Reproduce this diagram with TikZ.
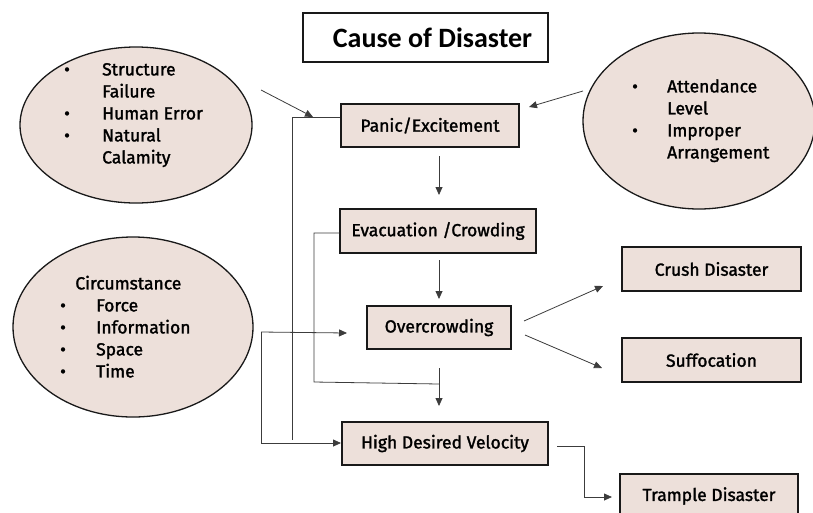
\documentclass[tikz,border=0pt]{standalone}
\usepackage{fontspec}
\setmainfont{Fira Sans}[RawFeature={embolden=1.6}]
\newfontfamily\titlefont{Carlito}
\usetikzlibrary{shapes.geometric,arrows.meta}
\definecolor{boxfill}{RGB}{237,224,218}
\definecolor{linegray}{RGB}{60,60,60}
\tikzset{
  every node/.style={font=\fontsize{17.5}{22}\selectfont},
  stepbox/.style={draw=black!90, line width=1.3pt, fill=boxfill, inner sep=0pt},
  bubble/.style={ellipse, draw=black!90, line width=1.3pt, fill=boxfill, inner sep=0pt},
  arr/.style={draw=linegray, line width=0.8pt, -{Triangle[length=8pt,width=7pt]}},
  link/.style={draw=linegray, line width=0.8pt},
}
\begin{document}
\begin{tikzpicture}[x=1pt,y=-1pt]
\useasboundingbox (0,0) rectangle (813,512);

% title
\node[draw=black!90, line width=1.3pt, minimum width=245pt, minimum height=49pt, inner sep=0pt,
      font=\titlefont\bfseries\fontsize{28}{32}\selectfont] (title) at (425.5,37.5) {\hspace*{14pt}Cause of Disaster};

% influence bubbles
\node[bubble, minimum width=232pt, minimum height=156pt] (e1) at (136,125) {};
\node[anchor=west, inner sep=0pt] (e1txt) at (64,115) {%
  \begin{tabular}{@{}p{38pt}@{}l@{}}
  \textbullet & Structure\\ & Failure\\ \textbullet & Human Error\\ \textbullet & Natural\\ & Calamity
  \end{tabular}};

\node[bubble, minimum width=232pt, minimum height=176pt] (e2) at (699,121) {};
\node[anchor=west, inner sep=0pt] (e2txt) at (632,121) {%
  \begin{tabular}{@{}p{35pt}@{}l@{}}
  \textbullet & Attendance\\ & Level\\ \textbullet & Improper\\ & Arrangement
  \end{tabular}};

\node[bubble, minimum width=240pt, minimum height=180pt] (e3) at (133,327) {};
\node[anchor=west, inner sep=0pt] (e3txt) at (60,329) {%
  \begin{tabular}{@{}p{36pt}@{}l@{}}
  \multicolumn{2}{@{}c@{}}{\hspace{6pt}Circumstance}\\
  \textbullet & Force\\ \textbullet & Information\\ \textbullet & Space\\ \textbullet & Time
  \end{tabular}};

% process steps
\node[stepbox, minimum width=178pt, minimum height=43pt] (panic) at (430,125.5) {Panic/Excitement};
\node[stepbox, minimum width=196pt, minimum height=44pt] (evac) at (438,231) {Evacuation /Crowding};
\node[stepbox, minimum width=144pt, minimum height=43pt] (over) at (439,327.5) {Overcrowding};
\node[stepbox, minimum width=206pt, minimum height=43pt] (hdv) at (445,443.5) {High Desired Velocity};
\node[stepbox, minimum width=179pt, minimum height=44pt] (crush) at (711.5,269) {Crush Disaster};
\node[stepbox, minimum width=179pt, minimum height=44pt] (suff) at (711.5,360) {Suffocation};
\node[stepbox, minimum width=178pt, minimum height=44pt] (trample) at (709,496) {Trample Disaster};

% connector end points
\coordinate (a1s) at (261,90);   \coordinate (a1e) at (313,117);
\coordinate (a2s) at (583,91);   \coordinate (a2e) at (529,107);
\coordinate (a3s) at (439,156);  \coordinate (a3e) at (439,195);
\coordinate (a4s) at (439,260);  \coordinate (a4e) at (439,299);
\coordinate (a5s) at (439,368);  \coordinate (a5e) at (439,406);
\coordinate (pk)  at (292,117);  \coordinate (pe)  at (292,440);
\coordinate (ek1) at (314,233);  \coordinate (ek2) at (314,382);  \coordinate (ej) at (439,384);
\coordinate (cs)  at (261,332);  \coordinate (ce1) at (347,333);
\coordinate (ck)  at (261,443);  \coordinate (ce2) at (341,443);
\coordinate (o1s) at (524,321);  \coordinate (o1e) at (603,286);
\coordinate (o2s) at (525,335);  \coordinate (o2e) at (602,368);
\coordinate (ts)  at (557,446);  \coordinate (tk1) at (584,446);
\coordinate (tk2) at (584,497);  \coordinate (te)  at (612,497);

% connectors
\draw[arr] (a1s) -- (a1e);
\draw[arr] (a2s) -- (a2e);
\draw[arr] (a3s) -- (a3e);
\draw[arr] (a4s) -- (a4e);
\draw[arr] (a5s) -- (a5e);
\draw[link] ([yshift=8.5pt]panic.west) -- (pk) -- (pe);
\draw[link] ([yshift=-2pt]evac.west) -- (ek1) -- (ek2) -- (ej);
\draw[arr] (cs) -- (ce1);
\draw[arr] (cs) -- (ck) -- (ce2);
\draw[arr] (o1s) -- (o1e);
\draw[arr] (o2s) -- (o2e);
\draw[arr] (ts) -- (tk1) -- (tk2) -- (te);
\end{tikzpicture}
\end{document}
